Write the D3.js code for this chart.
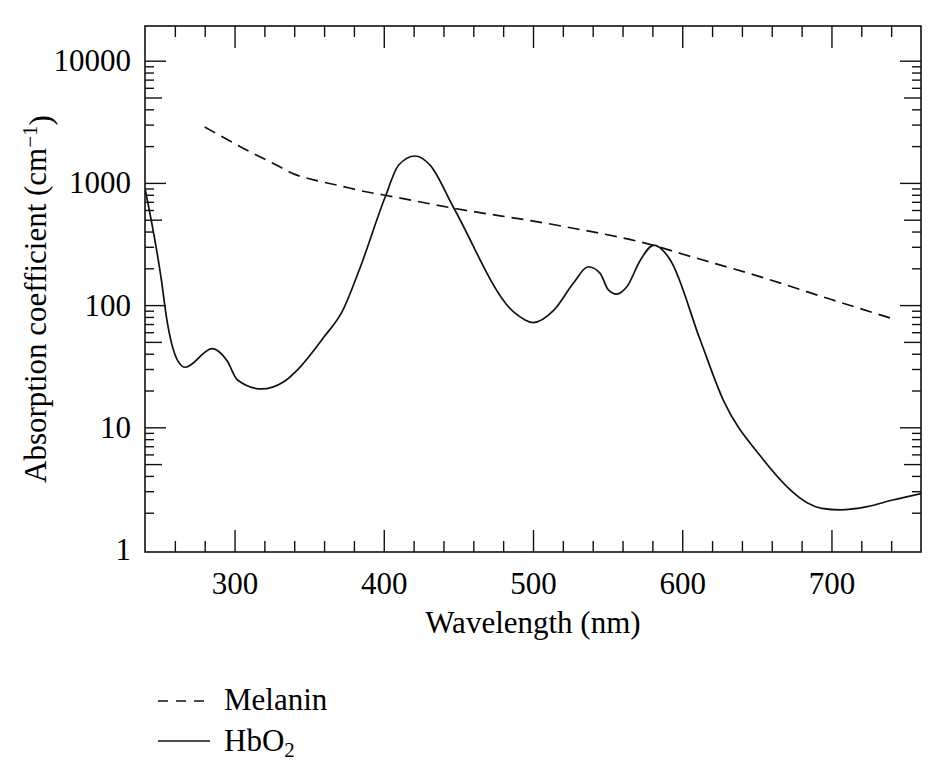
<!DOCTYPE html>
<html lang="en">
<head>
  <meta charset="UTF-8">
  <title>Absorption coefficient</title>
  <style>
    body { margin: 0; background: #fff; }
    text { font-family: "Liberation Serif", "DejaVu Serif", serif; fill: #000; }
  </style>
</head>
<body>
  <script src="https://d3js.org/d3.v7.min.js"></script>
  <script>
    // Melanin
    let melaninWavelength = [280, 308, 328, 340, 353, 371, 387, 400, 446, 518, 582, 600, 652, 700, 740];
    let melaninValue = [2870, 1860, 1400, 1180, 1060, 945, 850, 796, 623, 446, 305, 262, 171, 111, 78];

    // HbO2
    let hbo2Wavelength = [240, 251, 254.5, 262, 267, 285, 295, 302, 318, 333, 342, 360, 372, 384, 401, 410, 421, 431, 447, 487, 500, 514, 527, 537, 545, 550.5, 556, 563, 572, 581, 592, 612, 627.5, 652, 693.5, 706, 724, 741, 760];
    let hbo2Value = [900, 160, 78, 35, 31, 44, 35, 24.4, 20.6, 23.6, 29.4, 55, 88, 200, 770, 1400, 1660, 1400, 620, 88, 72, 91, 151, 206, 182, 133, 123, 142, 234, 310, 234, 52, 16.7, 5.9, 2.17, 2.11, 2.24, 2.54, 2.87];

    // Tick labels
    let xMajorTicks = [300, 400, 500, 600, 700];
    let yMajorTicks = [1, 10, 100, 1000, 10000];

    let svgWidth = 930;
    let svgHeight = 779;
    let fontSize = 31;

    let margin = { top: 26, right: 9, bottom: 227, left: 145 };
    let chartWidth = svgWidth - margin.left - margin.right;
    let chartHeight = svgHeight - margin.top - margin.bottom;

    let svg = d3.select("body")
      .append("svg")
      .attr("width", svgWidth)
      .attr("height", svgHeight);

    let chartGroup = svg.append("g")
      .attr("transform", `translate(${margin.left}, ${margin.top})`);

    let x = d3.scaleLinear().domain([240, 760]).range([0, chartWidth]);
    let y = d3.scaleLog().domain([0.954, 19230]).range([chartHeight, 0]);

    // minor ticks
    let xMinorTicks = d3.range(260, 760, 20).filter(d => d % 100 !== 0);
    let yMidTicks = [5, 50, 500, 5000];
    let yMinorTicks = [];
    [1, 10, 100, 1000].forEach(dec => {
      [2, 3, 4, 6, 7, 8, 9].forEach(m => yMinorTicks.push(dec * m));
    });

    function styleAxis(g) {
      g.select(".domain").remove();
      g.selectAll(".tick line").attr("stroke", "#111").attr("stroke-width", 1.4);
      g.selectAll(".tick text").style("font-size", fontSize + "px").attr("fill", "#000");
    }

    // bottom axis
    chartGroup.append("g")
      .attr("transform", `translate(0, ${chartHeight})`)
      .call(d3.axisBottom(x).tickValues(xMajorTicks).tickSize(-22).tickPadding(20))
      .call(styleAxis);
    chartGroup.append("g")
      .attr("transform", `translate(0, ${chartHeight})`)
      .call(d3.axisBottom(x).tickValues(xMinorTicks).tickSize(-11).tickFormat(""))
      .call(styleAxis);

    // top axis (mirror)
    chartGroup.append("g")
      .call(d3.axisTop(x).tickValues(xMajorTicks).tickSize(-22).tickFormat(""))
      .call(styleAxis);
    chartGroup.append("g")
      .call(d3.axisTop(x).tickValues(xMinorTicks).tickSize(-11).tickFormat(""))
      .call(styleAxis);

    // left axis
    let yLeft = chartGroup.append("g")
      .call(d3.axisLeft(y).tickValues(yMajorTicks).tickSize(-21).tickPadding(14).tickFormat(d3.format("d")))
      .call(styleAxis);
    // the "1" sits on the frame, no separate tick mark
    yLeft.selectAll(".tick").filter(d => d === 1).select("line").remove();
    chartGroup.append("g")
      .call(d3.axisLeft(y).tickValues(yMidTicks).tickSize(-17).tickFormat(""))
      .call(styleAxis);
    chartGroup.append("g")
      .call(d3.axisLeft(y).tickValues(yMinorTicks).tickSize(-9).tickFormat(""))
      .call(styleAxis);

    // right axis (mirror)
    chartGroup.append("g")
      .attr("transform", `translate(${chartWidth}, 0)`)
      .call(d3.axisRight(y).tickValues(yMajorTicks.filter(d => d > 1)).tickSize(-21).tickFormat(""))
      .call(styleAxis);
    chartGroup.append("g")
      .attr("transform", `translate(${chartWidth}, 0)`)
      .call(d3.axisRight(y).tickValues(yMidTicks).tickSize(-17).tickFormat(""))
      .call(styleAxis);
    chartGroup.append("g")
      .attr("transform", `translate(${chartWidth}, 0)`)
      .call(d3.axisRight(y).tickValues(yMinorTicks).tickSize(-9).tickFormat(""))
      .call(styleAxis);

    // frame
    chartGroup.append("rect")
      .attr("width", chartWidth)
      .attr("height", chartHeight)
      .attr("fill", "none")
      .attr("stroke", "#111")
      .attr("stroke-width", 1.6);

    // clip the curves to the plot area
    svg.append("clipPath").attr("id", "plot-clip")
      .append("rect").attr("width", chartWidth).attr("height", chartHeight);

    let line = d3.line()
      .x(d => x(d[0]))
      .y(d => y(d[1]))
      .curve(d3.curveMonotoneX);

    let melanin = melaninWavelength.map((w, i) => [w, melaninValue[i]]);
    let hbo2 = hbo2Wavelength.map((w, i) => [w, hbo2Value[i]]);

    chartGroup.append("path")
      .datum(melanin)
      .attr("clip-path", "url(#plot-clip)")
      .attr("d", line)
      .attr("fill", "none")
      .attr("stroke", "#111")
      .attr("stroke-width", 1.7)
      .attr("stroke-dasharray", "12,7");

    chartGroup.append("path")
      .datum(hbo2)
      .attr("clip-path", "url(#plot-clip)")
      .attr("d", line)
      .attr("fill", "none")
      .attr("stroke", "#111")
      .attr("stroke-width", 1.7);

    // axis titles
    svg.append("text")
      .attr("x", margin.left + chartWidth / 2)
      .attr("y", 633)
      .attr("text-anchor", "middle")
      .style("font-size", fontSize + "px")
      .text("Wavelength (nm)");

    let yTitle = svg.append("text")
      .attr("transform", `translate(46, 299) rotate(-90)`)
      .attr("text-anchor", "middle")
      .style("font-size", fontSize + "px");
    yTitle.append("tspan").text("Absorption coefficient (cm");
    yTitle.append("tspan").attr("dy", "-0.45em").style("font-size", "21px").text("\u22121");
    yTitle.append("tspan").attr("dy", "0.45em").text(")");

    // legend
    let legendGroup = svg.append("g").attr("transform", "translate(158, 701)");

    legendGroup.append("line")
      .attr("x1", 0).attr("x2", 52).attr("y1", 0).attr("y2", 0)
      .attr("stroke", "#111").attr("stroke-width", 1.7)
      .attr("stroke-dasharray", "10,8");
    legendGroup.append("text")
      .attr("x", 66).attr("y", 9)
      .style("font-size", fontSize + "px")
      .text("Melanin");

    legendGroup.append("line")
      .attr("x1", 0).attr("x2", 52).attr("y1", 40).attr("y2", 40)
      .attr("stroke", "#111").attr("stroke-width", 1.7);
    let hbLabel = legendGroup.append("text")
      .attr("x", 66).attr("y", 50)
      .style("font-size", fontSize + "px");
    hbLabel.append("tspan").text("HbO");
    hbLabel.append("tspan").attr("dy", "0.3em").style("font-size", "21px").text("2");
  </script>
</body>
</html>
